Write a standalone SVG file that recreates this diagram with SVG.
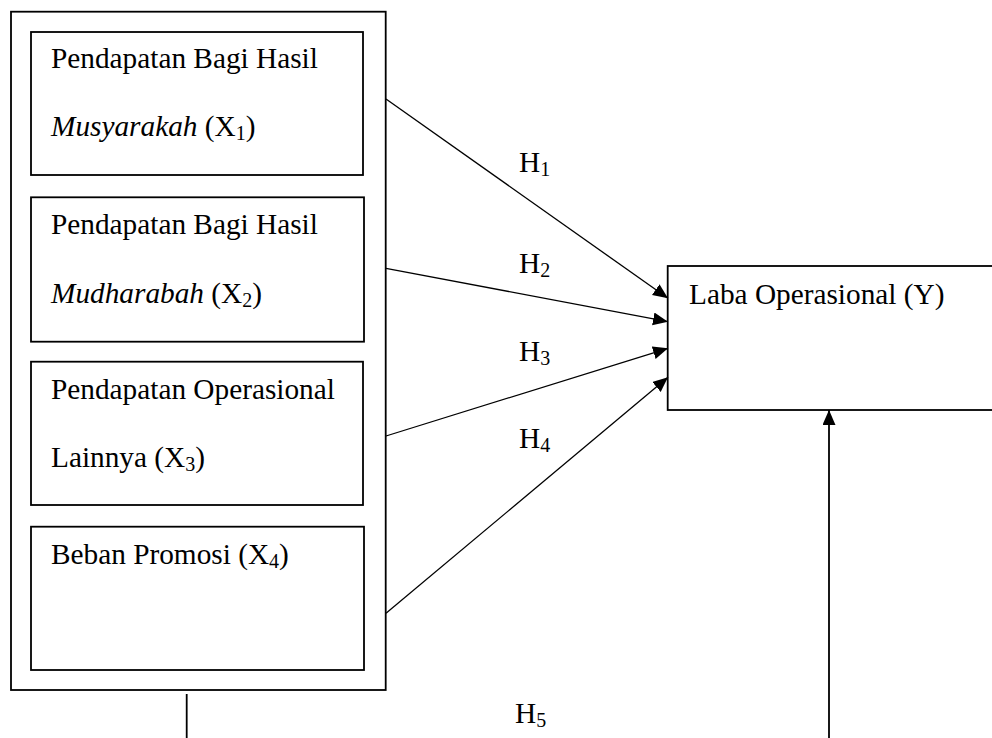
<svg xmlns="http://www.w3.org/2000/svg" width="992" height="738" viewBox="0 0 992 738">
<defs>
<marker id="arr" markerUnits="userSpaceOnUse" markerWidth="16" markerHeight="14" refX="15" refY="6.5" orient="auto">
<path d="M0,0 L15,6.5 L0,13 z" fill="#000"/>
</marker>
<style>
.box{fill:none;stroke:#000;stroke-width:1.8}
.t{font-family:"Liberation Serif","Times New Roman",serif;font-size:29.3px;fill:#000}
.sub{font-size:20px}
.con{stroke:#000;stroke-width:1.3;fill:none}
</style>
</defs>
<rect x="0" y="0" width="992" height="738" fill="#fff"/>
<g id="outer">
<rect class="box" x="11" y="11.7" width="374.7" height="678.3"/>
</g>
<g id="x1">
<rect class="box" x="31" y="32" width="332" height="143"/>
<text class="t" x="51" y="68">Pendapatan Bagi Hasil</text>
<text class="t" x="51" y="136"><tspan font-style="italic">Musyarakah</tspan> (X<tspan class="sub" dy="4">1</tspan><tspan dy="-4">)</tspan></text>
</g>
<g id="x2">
<rect class="box" x="31" y="197.3" width="333" height="144.4"/>
<text class="t" x="51" y="234">Pendapatan Bagi Hasil</text>
<text class="t" x="51" y="303"><tspan font-style="italic">Mudharabah</tspan> (X<tspan class="sub" dy="4">2</tspan><tspan dy="-4">)</tspan></text>
</g>
<g id="x3">
<rect class="box" x="31" y="361.7" width="332" height="143.3"/>
<text class="t" x="51" y="399">Pendapatan Operasional</text>
<text class="t" x="51" y="467">Lainnya (X<tspan class="sub" dy="4">3</tspan><tspan dy="-4">)</tspan></text>
</g>
<g id="x4">
<rect class="box" x="31" y="526.7" width="333" height="143.3"/>
<text class="t" x="51" y="564">Beban Promosi (X<tspan class="sub" dy="4">4</tspan><tspan dy="-4">)</tspan></text>
</g>
<g id="y">
<rect class="box" x="667.7" y="266" width="340" height="144"/>
<text class="t" x="689" y="304">Laba Operasional (Y)</text>
</g>
<g id="connectors">
<line class="con" x1="386" y1="99" x2="668" y2="298.3" marker-end="url(#arr)"/>
<line class="con" x1="386" y1="268.3" x2="668" y2="321.7" marker-end="url(#arr)"/>
<line class="con" x1="386" y1="436" x2="668" y2="348.3" marker-end="url(#arr)"/>
<line class="con" x1="386" y1="613.3" x2="668" y2="377.3" marker-end="url(#arr)"/>
<line class="con" x1="186.7" y1="694" x2="186.7" y2="738" style="stroke-width:1.8"/>
<line class="con" x1="829" y1="738" x2="829" y2="410" marker-end="url(#arr)" style="stroke-width:1.8"/>
</g>
<g id="labels">
<text class="t" x="519" y="172">H<tspan class="sub" dy="4">1</tspan></text>
<text class="t" x="519" y="273">H<tspan class="sub" dy="4">2</tspan></text>
<text class="t" x="519" y="361">H<tspan class="sub" dy="4">3</tspan></text>
<text class="t" x="519" y="448">H<tspan class="sub" dy="4">4</tspan></text>
<text class="t" x="515" y="723">H<tspan class="sub" dy="4">5</tspan></text>
</g>
</svg>
